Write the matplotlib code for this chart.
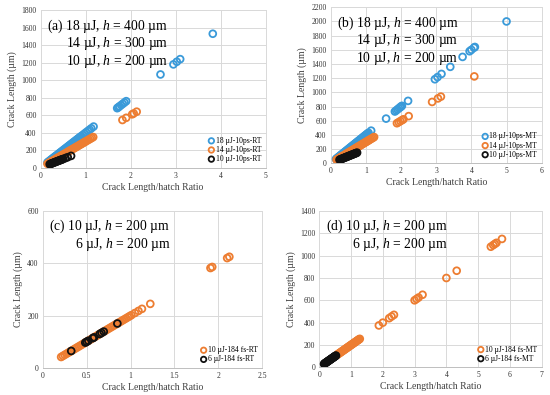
import numpy as np
import matplotlib
matplotlib.use("Agg")
import matplotlib.pyplot as plt

plt.rcParams['font.family'] = ['Liberation Serif', 'DejaVu Serif']
plt.rcParams['mathtext.fontset'] = 'custom'
plt.rcParams['mathtext.rm'] = 'Liberation Serif'
plt.rcParams['mathtext.it'] = 'Liberation Serif:italic'

BLUE = "#3a9ad9"
ORANGE = "#ed7d31"
BLACK = "#111111"

# (a) RT, 10 ps  -- crack lengths in um, hatch in um
a_18_len = [60, 70, 80, 90, 100, 110, 120, 130, 140, 150, 160, 170, 180, 190, 200,
            210, 220, 230, 240, 250, 260, 270, 280, 290, 300, 310, 320, 330, 340,
            350, 360, 375, 390, 405, 420, 435, 450, 470,
            680, 690, 700, 715, 730, 745, 760, 1065, 1180, 1210, 1240, 1530]
a_14_len = [45, 52, 60, 68, 76, 84, 92, 100, 108, 116, 124, 132, 140, 148, 156, 164,
            172, 180, 188, 196, 204, 212, 220, 228, 236, 244, 252, 260, 268, 276,
            284, 292, 300, 310, 320, 330, 340, 350, 545, 570, 610, 620, 640]
a_10_len = [40, 44, 48, 52, 56, 60, 64, 68, 72, 76, 80, 84, 88, 92, 96, 100,
            110, 120, 135]

# (b) MT, 10 ps
b_18_len = [60, 70, 80, 90, 100, 110, 120, 130, 140, 150, 160, 170, 180, 190, 200,
            210, 220, 230, 240, 250, 260, 270, 280, 290, 300, 310, 320, 330, 340,
            350, 360, 370, 380, 390, 400, 410, 420, 430, 460, 630,
            730, 745, 760, 775, 790, 800, 810, 880, 1185, 1215, 1260, 1360, 1500,
            1580, 1600, 1630, 1640, 2000]
b_14_len = [50, 58, 66, 74, 82, 90, 98, 106, 114, 122, 130, 138, 146, 154, 162, 170,
            178, 186, 194, 202, 210, 218, 226, 234, 242, 250, 258, 266, 274, 282,
            290, 298, 306, 314, 322, 330, 340, 350, 360, 370,
            565, 580, 595, 610, 620, 665, 865, 915, 940, 1225]
b_10_len = [50, 55, 60, 65, 70, 75, 80, 85, 90, 95, 100, 105, 110, 115, 120, 125,
            130, 135, 140, 145, 150]

# (c) RT, 184 fs
c_10_len = [42, 46, 50, 54, 58, 62, 66, 70, 74, 78, 82, 86, 90, 94, 98, 102, 106,
            110, 114, 118, 122, 126, 130, 134, 138, 142, 146, 150, 154, 158, 162,
            166, 170, 174, 178, 182, 186, 190, 194, 198, 202, 210, 218, 226, 245,
            382, 386, 420, 425]
c_6_len = [65, 97, 100, 104, 114, 117, 130, 134, 139, 170]

# (d) MT, 184 fs
d_10_len = [110, 115, 120, 125, 130, 135, 140, 145, 150, 155, 160, 165, 170, 175,
            180, 185, 190, 195, 200, 205, 210, 215, 220, 225, 230, 235, 240, 245,
            250, 255, 375, 400, 440, 455, 470, 600, 612, 625, 650, 800, 865,
            1080, 1095, 1105, 1115, 1150]
d_6_len = [30, 33, 36, 39, 42, 45, 48, 51, 54, 57, 60, 63, 66, 69, 72, 75, 78, 81,
           84, 87, 90, 93, 96, 99, 102, 105]

panels = [
    dict(rect=[0.074, 0.5754, 0.409, 0.399], xlim=5, xstep=1, ylim=1800, ystep=200,
         text="(a) 18 µJ, $h$ = 400 µm\n14 µJ, $h$ = 300 µm\n10 µJ, $h$ = 200 µm",
         series=[(a_18_len, 400, BLUE, "18 µJ-10ps-RT"),
                 (a_14_len, 300, ORANGE, "14 µJ-10ps-RT"),
                 (a_10_len, 200, BLACK, "10 µJ-10ps-RT")]),
    dict(rect=[0.6013, 0.5866, 0.3836, 0.395], xlim=6, xstep=1, ylim=2200, ystep=200,
         text="(b) 18 µJ, $h$ = 400 µm\n14 µJ, $h$ = 300 µm\n10 µJ, $h$ = 200 µm",
         series=[(b_18_len, 400, BLUE, "18 µJ-10ps-MT"),
                 (b_14_len, 300, ORANGE, "14 µJ-10ps-MT"),
                 (b_10_len, 200, BLACK, "10 µJ-10ps-MT")]),
    dict(rect=[0.0776, 0.0684, 0.3993, 0.3975], xlim=2.5, xstep=0.5, ylim=600, ystep=200,
         text="(c) 10 µJ, $h$ = 200 µm\n6 µJ, $h$ = 200 µm",
         series=[(c_10_len, 200, ORANGE, "10 µJ-184 fs-RT"),
                 (c_6_len, 200, BLACK, "6 µJ-184 fs-RT")]),
    dict(rect=[0.5805, 0.0701, 0.4044, 0.3957], xlim=7, xstep=1, ylim=1400, ystep=200,
         text="(d) 10 µJ, $h$ = 200 µm\n6 µJ, $h$ = 200 µm",
         series=[(d_10_len, 200, ORANGE, "10 µJ-184 fs-MT"),
                 (d_6_len, 200, BLACK, "6 µJ-184 fs-MT")]),
]

fig = plt.figure(figsize=(5.5, 3.95), dpi=100)

for p in panels:
    ax = fig.add_axes(p["rect"])
    for length, hatch, col, lab in p["series"]:
        length = np.array(length, dtype=float)
        ratio = length / hatch
        ax.scatter(ratio, length, s=24, facecolors="none", edgecolors=col,
                   linewidths=1.3, label=lab, zorder=3)
    ax.set_xlim(0, p["xlim"])
    ax.set_ylim(0, p["ylim"])
    ax.set_xticks(np.arange(0, p["xlim"] + 1e-9, p["xstep"]))
    ax.set_yticks(np.arange(0, p["ylim"] + 1e-9, p["ystep"]))
    ax.set_xticklabels([("%g" % v) for v in ax.get_xticks()])
    ax.tick_params(labelsize=5.5, length=0, pad=3, colors="#333333")
    ax.grid(True, color="#d9d9d9", linewidth=0.7)
    ax.set_axisbelow(True)
    for s in ax.spines.values():
        s.set_color("#d9d9d9")
        s.set_linewidth(0.7)
    ax.spines["bottom"].set_color("#bfbfbf")
    ax.set_xlabel("Crack Length/hatch Ratio", fontsize=7, color="#404040", labelpad=2)
    ax.set_ylabel("Crack Length (µm)", fontsize=7, color="#404040", labelpad=3)
    ax.text(0.03, 0.955, p["text"], transform=ax.transAxes, ha="left", va="top",
            multialignment="right", fontsize=9.8, color="black", linespacing=1.05)
    ax.legend(loc="lower right", fontsize=5.5, frameon=False, handletextpad=0.05,
              labelspacing=0.15, borderaxespad=0.2, handlelength=1.0,
              markerscale=0.8)

fig.savefig("out.png", dpi=100)
